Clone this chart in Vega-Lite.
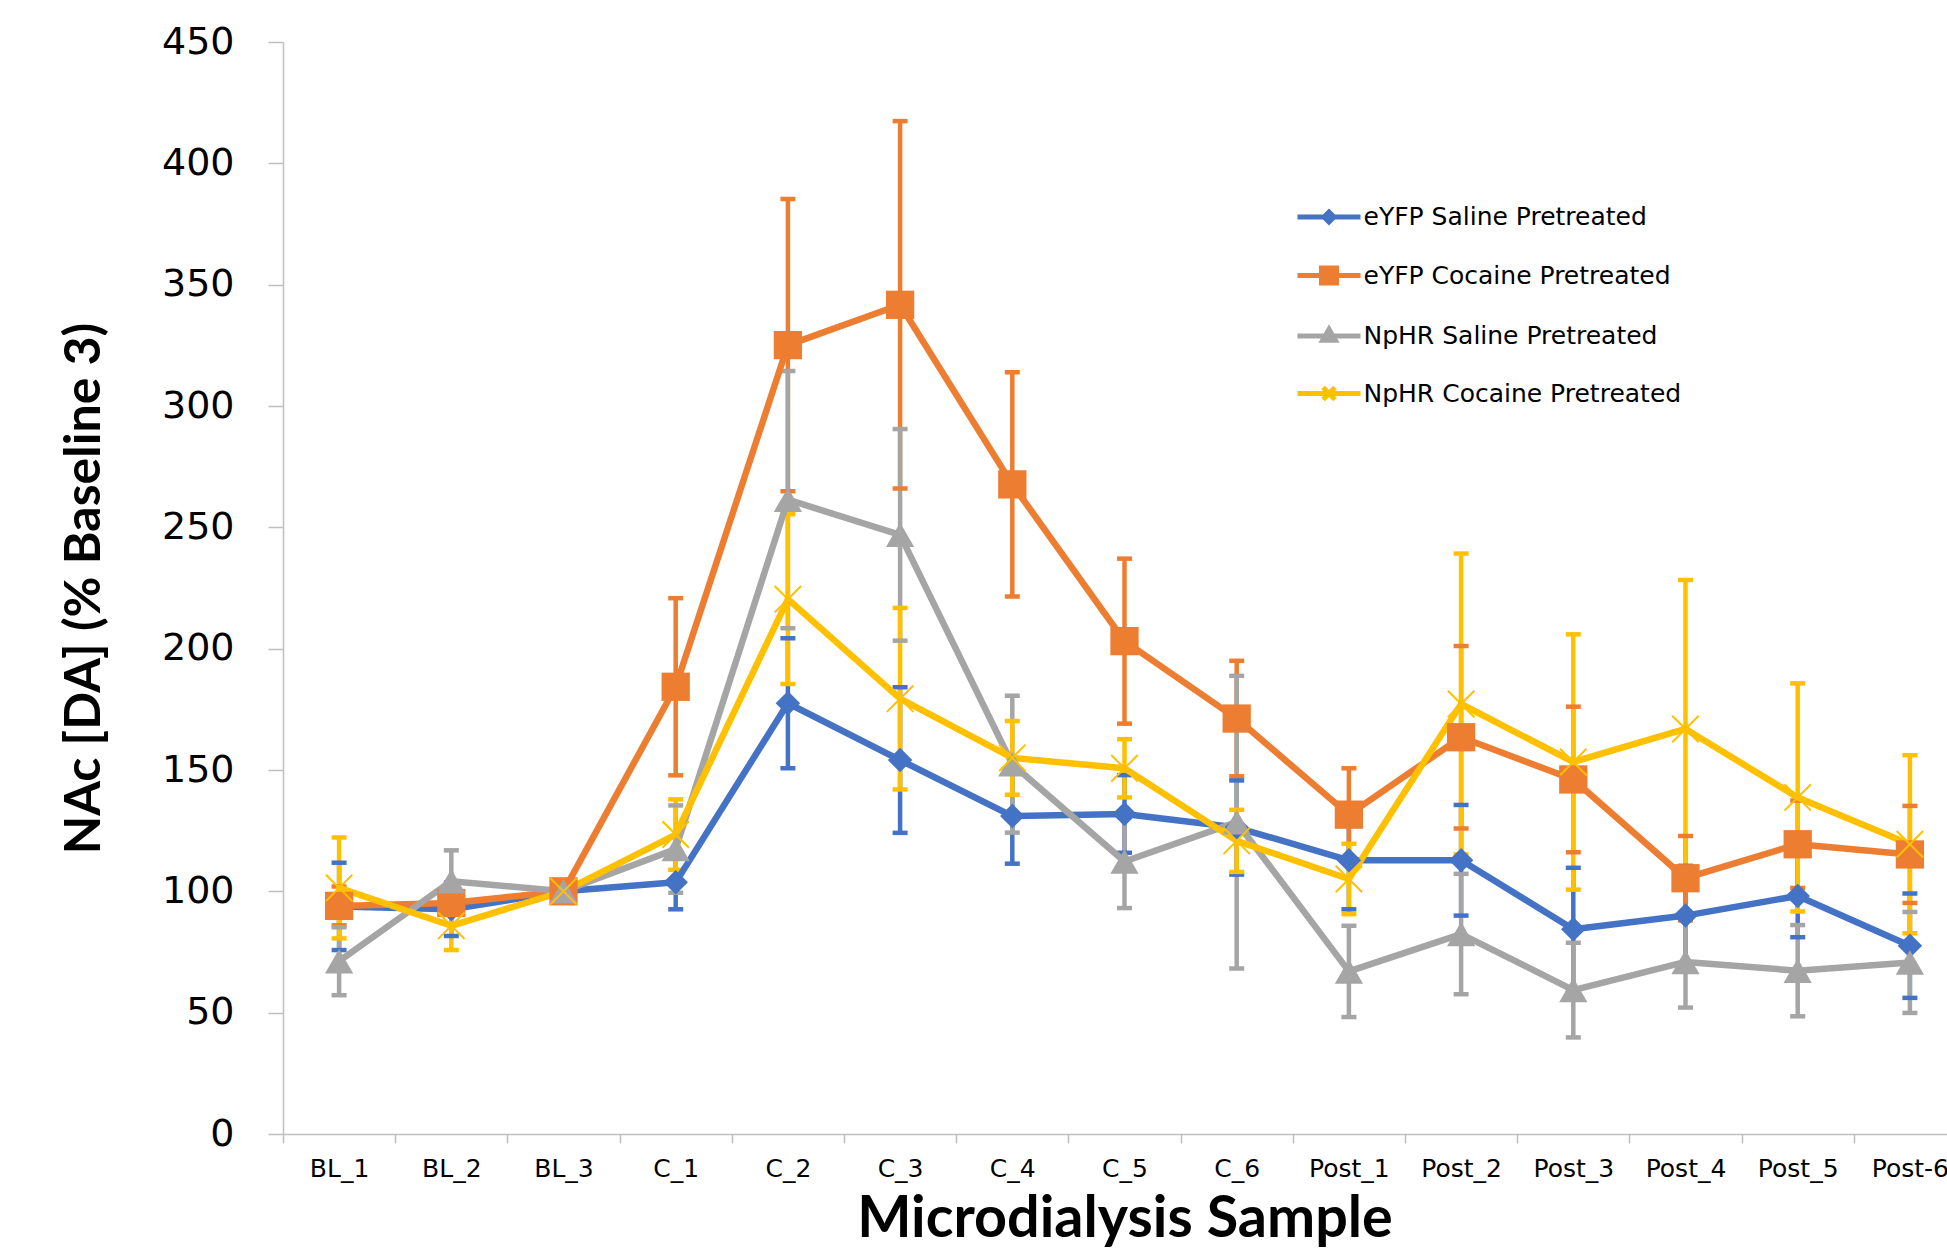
{
  "$schema": "https://vega.github.io/schema/vega-lite/v6.json",
  "autosize": "none",
  "width": 1664,
  "height": 1092,
  "padding": {"left": 283, "top": 42, "right": 0, "bottom": 116},
  "background": "white",
  "config": {
    "view": {"stroke": null},
    "axis": {"grid": false},
    "axisY": {"labelFont": "DejaVu Sans", "labelFontSize": 38, "labelColor": "#000000", "labelPadding": 34,
      "tickSize": 15, "tickColor": "#BFBFBF", "tickWidth": 1.5, "domainColor": "#BFBFBF", "domainWidth": 1.5,
      "titleFont": "Lato", "titleFontWeight": "bold", "titleFontSize": 50, "titleColor": "#000000",
      "titleX": -199, "titleY": 546, "titleAngle": -90, "titleBaseline": "middle", "titleAlign": "center"},
    "axisX": {"labelAngle": 0, "labelFont": "DejaVu Sans", "labelFontSize": 25, "labelColor": "#000000",
      "labelBaseline": "middle", "labelPadding": 25,
      "tickSize": 9, "tickColor": "#BFBFBF", "tickWidth": 1.5, "domainColor": "#BFBFBF", "domainWidth": 1.5,
      "titleFont": "Lato", "titleFontWeight": "bold", "titleFontSize": 57.5, "titleColor": "#000000",
      "titleX": 841.5, "titleY": 85, "titleBaseline": "middle", "titleAlign": "center"}
  },
  "data": {"values": [
    {"s": "BL_1", "g": "eYFP Saline Pretreated", "v": 93.8, "lo": 75.8, "hi": 111.8},
    {"s": "BL_2", "g": "eYFP Saline Pretreated", "v": 92.6, "lo": 81.6, "hi": 103.6},
    {"s": "BL_3", "g": "eYFP Saline Pretreated", "v": 100, "lo": null, "hi": null},
    {"s": "C_1", "g": "eYFP Saline Pretreated", "v": 103.7, "lo": 92.6, "hi": 114.8},
    {"s": "C_2", "g": "eYFP Saline Pretreated", "v": 177.5, "lo": 150.7, "hi": 204.3},
    {"s": "C_3", "g": "eYFP Saline Pretreated", "v": 154.1, "lo": 124.1, "hi": 184.1},
    {"s": "C_4", "g": "eYFP Saline Pretreated", "v": 131, "lo": 111.4, "hi": 150.6},
    {"s": "C_5", "g": "eYFP Saline Pretreated", "v": 131.9, "lo": 115.9, "hi": 147.9},
    {"s": "C_6", "g": "eYFP Saline Pretreated", "v": 126.3, "lo": 106.9, "hi": 145.7},
    {"s": "Post_1", "g": "eYFP Saline Pretreated", "v": 112.8, "lo": 92.6, "hi": 133},
    {"s": "Post_2", "g": "eYFP Saline Pretreated", "v": 112.8, "lo": 90, "hi": 135.6},
    {"s": "Post_3", "g": "eYFP Saline Pretreated", "v": 84.4, "lo": 59.1, "hi": 109.7},
    {"s": "Post_4", "g": "eYFP Saline Pretreated", "v": 90, "lo": 69.5, "hi": 110.5},
    {"s": "Post_5", "g": "eYFP Saline Pretreated", "v": 98.1, "lo": 81.1, "hi": 115.1},
    {"s": "Post-6", "g": "eYFP Saline Pretreated", "v": 77.6, "lo": 56.1, "hi": 99.1},
    {"s": "BL_1", "g": "eYFP Cocaine Pretreated", "v": 94, "lo": 86, "hi": 102},
    {"s": "BL_2", "g": "eYFP Cocaine Pretreated", "v": 95.2, "lo": 91.2, "hi": 99.2},
    {"s": "BL_3", "g": "eYFP Cocaine Pretreated", "v": 100, "lo": null, "hi": null},
    {"s": "C_1", "g": "eYFP Cocaine Pretreated", "v": 184.3, "lo": 147.8, "hi": 220.8},
    {"s": "C_2", "g": "eYFP Cocaine Pretreated", "v": 325.1, "lo": 264.9, "hi": 385.3},
    {"s": "C_3", "g": "eYFP Cocaine Pretreated", "v": 341.7, "lo": 266, "hi": 417.4},
    {"s": "C_4", "g": "eYFP Cocaine Pretreated", "v": 267.7, "lo": 221.5, "hi": 313.9},
    {"s": "C_5", "g": "eYFP Cocaine Pretreated", "v": 203.1, "lo": 169.1, "hi": 237.1},
    {"s": "C_6", "g": "eYFP Cocaine Pretreated", "v": 171.2, "lo": 147.4, "hi": 195},
    {"s": "Post_1", "g": "eYFP Cocaine Pretreated", "v": 131.6, "lo": 112.5, "hi": 150.7},
    {"s": "Post_2", "g": "eYFP Cocaine Pretreated", "v": 163.5, "lo": 125.9, "hi": 201.1},
    {"s": "Post_3", "g": "eYFP Cocaine Pretreated", "v": 146.1, "lo": 116.1, "hi": 176.1},
    {"s": "Post_4", "g": "eYFP Cocaine Pretreated", "v": 105.4, "lo": 88, "hi": 122.8},
    {"s": "Post_5", "g": "eYFP Cocaine Pretreated", "v": 119.4, "lo": 101.4, "hi": 137.4},
    {"s": "Post-6", "g": "eYFP Cocaine Pretreated", "v": 115.2, "lo": 95.2, "hi": 135.2},
    {"s": "BL_1", "g": "NpHR Saline Pretreated", "v": 71.2, "lo": 57.2, "hi": 85.2},
    {"s": "BL_2", "g": "NpHR Saline Pretreated", "v": 104.2, "lo": 91.5, "hi": 116.9},
    {"s": "BL_3", "g": "NpHR Saline Pretreated", "v": 100, "lo": null, "hi": null},
    {"s": "C_1", "g": "NpHR Saline Pretreated", "v": 117.4, "lo": 99.4, "hi": 135.4},
    {"s": "C_2", "g": "NpHR Saline Pretreated", "v": 261.4, "lo": 208.4, "hi": 314.4},
    {"s": "C_3", "g": "NpHR Saline Pretreated", "v": 246.9, "lo": 203.3, "hi": 290.5},
    {"s": "C_4", "g": "NpHR Saline Pretreated", "v": 152.4, "lo": 124.2, "hi": 180.6},
    {"s": "C_5", "g": "NpHR Saline Pretreated", "v": 112.3, "lo": 93.1, "hi": 131.5},
    {"s": "C_6", "g": "NpHR Saline Pretreated", "v": 128.5, "lo": 68.2, "hi": 188.8},
    {"s": "Post_1", "g": "NpHR Saline Pretreated", "v": 67, "lo": 48.2, "hi": 85.8},
    {"s": "Post_2", "g": "NpHR Saline Pretreated", "v": 82.4, "lo": 57.6, "hi": 107.2},
    {"s": "Post_3", "g": "NpHR Saline Pretreated", "v": 59.3, "lo": 39.8, "hi": 78.8},
    {"s": "Post_4", "g": "NpHR Saline Pretreated", "v": 70.9, "lo": 52.1, "hi": 89.7},
    {"s": "Post_5", "g": "NpHR Saline Pretreated", "v": 67.3, "lo": 48.5, "hi": 86.1},
    {"s": "Post-6", "g": "NpHR Saline Pretreated", "v": 70.7, "lo": 49.9, "hi": 91.5},
    {"s": "BL_1", "g": "NpHR Cocaine Pretreated", "v": 101.4, "lo": 80.6, "hi": 122.2},
    {"s": "BL_2", "g": "NpHR Cocaine Pretreated", "v": 85.8, "lo": 75.8, "hi": 95.8},
    {"s": "BL_3", "g": "NpHR Cocaine Pretreated", "v": 100, "lo": null, "hi": null},
    {"s": "C_1", "g": "NpHR Cocaine Pretreated", "v": 123.4, "lo": 108.9, "hi": 137.9},
    {"s": "C_2", "g": "NpHR Cocaine Pretreated", "v": 220.4, "lo": 185.4, "hi": 255.4},
    {"s": "C_3", "g": "NpHR Cocaine Pretreated", "v": 179.4, "lo": 142, "hi": 216.8},
    {"s": "C_4", "g": "NpHR Cocaine Pretreated", "v": 155, "lo": 139.8, "hi": 170.2},
    {"s": "C_5", "g": "NpHR Cocaine Pretreated", "v": 150.7, "lo": 138.7, "hi": 162.7},
    {"s": "C_6", "g": "NpHR Cocaine Pretreated", "v": 120.8, "lo": 108, "hi": 133.6},
    {"s": "Post_1", "g": "NpHR Cocaine Pretreated", "v": 105.1, "lo": 90.6, "hi": 119.6},
    {"s": "Post_2", "g": "NpHR Cocaine Pretreated", "v": 177.2, "lo": 115.2, "hi": 239.2},
    {"s": "Post_3", "g": "NpHR Cocaine Pretreated", "v": 153.3, "lo": 100.7, "hi": 205.9},
    {"s": "Post_4", "g": "NpHR Cocaine Pretreated", "v": 166.9, "lo": 105.5, "hi": 228.3},
    {"s": "Post_5", "g": "NpHR Cocaine Pretreated", "v": 138.7, "lo": 91.7, "hi": 185.7},
    {"s": "Post-6", "g": "NpHR Cocaine Pretreated", "v": 119.4, "lo": 82.7, "hi": 156.1}
  ]},
  "encoding": {
    "x": {
      "field": "s", "type": "nominal", "sort": null,
      "scale": {"domain": ["BL_1","BL_2","BL_3","C_1","C_2","C_3","C_4","C_5","C_6","Post_1","Post_2","Post_3","Post_4","Post_5","Post-6"], "range": [0, 1683], "paddingInner": 0, "paddingOuter": 0},
      "axis": {"title": "Microdialysis Sample", "tickBand": "extent"}
    }
  },
  "layer": [
    {
      "mark": {"type": "rule", "strokeWidth": 4.5},
      "encoding": {
        "y": {"field": "lo", "type": "quantitative", "scale": {"domain": [0, 450], "nice": false}, "axis": {"title": "NAc [DA] (% Baseline 3)", "values": [0,50,100,150,200,250,300,350,400,450]}},
        "y2": {"field": "hi"},
        "stroke": {"field": "g", "type": "nominal", "legend": null, "scale": {"domain": ["NpHR Cocaine Pretreated","NpHR Saline Pretreated","eYFP Cocaine Pretreated","eYFP Saline Pretreated"], "range": ["#FFC000","#A5A5A5","#ED7D31","#4472C4"]}}
      }
    },
    {
      "mark": {"type": "tick", "size": 15, "thickness": 4.5, "opacity": 1},
      "encoding": {
        "y": {"field": "lo", "type": "quantitative", "scale": {"domain": [0, 450], "nice": false}, "axis": {"title": "NAc [DA] (% Baseline 3)", "values": [0,50,100,150,200,250,300,350,400,450]}},
        "fill": {"field": "g", "type": "nominal", "legend": null, "scale": {"domain": ["eYFP Cocaine Pretreated","eYFP Saline Pretreated","NpHR Cocaine Pretreated","NpHR Saline Pretreated"], "range": ["#ED7D31","#4472C4","#FFC000","#A5A5A5"]}}
      }
    },
    {
      "mark": {"type": "tick", "size": 15, "thickness": 4.5, "opacity": 1},
      "encoding": {
        "y": {"field": "hi", "type": "quantitative", "scale": {"domain": [0, 450], "nice": false}, "axis": {"title": "NAc [DA] (% Baseline 3)", "values": [0,50,100,150,200,250,300,350,400,450]}},
        "fill": {"field": "g", "type": "nominal", "legend": null, "scale": {"domain": ["eYFP Cocaine Pretreated","eYFP Saline Pretreated","NpHR Cocaine Pretreated","NpHR Saline Pretreated"], "range": ["#ED7D31","#4472C4","#FFC000","#A5A5A5"]}}
      }
    },
    {
      "mark": {"type": "line", "strokeWidth": 6.5, "strokeCap": "round", "strokeJoin": "round"},
      "encoding": {
        "y": {"field": "v", "type": "quantitative", "scale": {"domain": [0, 450], "nice": false}, "axis": {"title": "NAc [DA] (% Baseline 3)", "values": [0,50,100,150,200,250,300,350,400,450]}},
        "stroke": {"field": "g", "type": "nominal", "legend": null, "scale": {"domain": ["NpHR Cocaine Pretreated","NpHR Saline Pretreated","eYFP Cocaine Pretreated","eYFP Saline Pretreated"], "range": ["#FFC000","#A5A5A5","#ED7D31","#4472C4"]}},
        "order": {"value": null}
      }
    },
    {
      "transform": [{"filter": "datum.g === 'eYFP Saline Pretreated'"}],
      "mark": {"type": "point", "shape": "diamond", "filled": true, "size": 600, "opacity": 1, "color": "#4472C4"},
      "encoding": {"y": {"field": "v", "type": "quantitative", "scale": {"domain": [0, 450], "nice": false}, "axis": {"title": "NAc [DA] (% Baseline 3)", "values": [0,50,100,150,200,250,300,350,400,450]}}}
    },
    {
      "transform": [{"filter": "datum.g === 'eYFP Cocaine Pretreated'"}],
      "mark": {"type": "point", "shape": "square", "filled": true, "size": 800, "opacity": 1, "color": "#ED7D31"},
      "encoding": {"y": {"field": "v", "type": "quantitative", "scale": {"domain": [0, 450], "nice": false}, "axis": {"title": "NAc [DA] (% Baseline 3)", "values": [0,50,100,150,200,250,300,350,400,450]}}}
    },
    {
      "transform": [{"filter": "datum.g === 'NpHR Saline Pretreated'"}],
      "mark": {"type": "point", "shape": "triangle-up", "filled": true, "size": 800, "opacity": 1, "color": "#A5A5A5"},
      "encoding": {"y": {"field": "v", "type": "quantitative", "scale": {"domain": [0, 450], "nice": false}, "axis": {"title": "NAc [DA] (% Baseline 3)", "values": [0,50,100,150,200,250,300,350,400,450]}}}
    },
    {
      "transform": [{"filter": "datum.g === 'NpHR Cocaine Pretreated'"}],
      "mark": {"type": "point", "shape": "M-1,-1L1,1M-1,1L1,-1", "filled": false, "size": 700, "strokeWidth": 2, "opacity": 1, "color": "#FFC000"},
      "encoding": {"y": {"field": "v", "type": "quantitative", "scale": {"domain": [0, 450], "nice": false}, "axis": {"title": "NAc [DA] (% Baseline 3)", "values": [0,50,100,150,200,250,300,350,400,450]}}}
    },
    {
      "mark": {"type": "point", "filled": false, "opacity": 0},
      "encoding": {
        "y": {"field": "v", "type": "quantitative", "scale": {"domain": [0, 450], "nice": false}, "axis": {"title": "NAc [DA] (% Baseline 3)", "values": [0,50,100,150,200,250,300,350,400,450]}},
        "color": {"field": "g", "type": "nominal",
          "scale": {"domain": ["eYFP Saline Pretreated","eYFP Cocaine Pretreated","NpHR Saline Pretreated","NpHR Cocaine Pretreated"], "range": ["#4472C4","#ED7D31","#A5A5A5","#FFC000"]},
          "legend": {"orient": "none", "legendX": 1028.5, "legendY": 157.5, "title": null,
            "labelFont": "DejaVu Sans", "labelFontSize": 25, "labelColor": "#000000", "labelOffset": 17, "labelLimit": 600,
            "symbolSize": 900, "symbolStrokeWidth": 5, "symbolOpacity": 1, "rowPadding": 25.5, "padding": 0,
            "encode": {"symbols": {"strokeCap": {"value": "round"}, "strokeJoin": {"value": "round"}}}}
        },
        "shape": {"field": "g", "type": "nominal",
          "scale": {"domain": ["eYFP Saline Pretreated","eYFP Cocaine Pretreated","NpHR Saline Pretreated","NpHR Cocaine Pretreated"],
            "range": [
              "M-2.1,0L2.1,0M0,-0.33L0.33,0L0,0.33L-0.33,0ZM0,-0.17L0.17,0L0,0.17L-0.17,0Z",
              "M-2.1,0L2.1,0M-0.5,-0.5L0.5,-0.5L0.5,0.5L-0.5,0.5ZM-0.33,-0.33L0.33,-0.33L0.33,0.33L-0.33,0.33ZM-0.17,-0.17L0.17,-0.17L0.17,0.17L-0.17,0.17ZM-0.03,-0.03L0.03,-0.03L0.03,0.03L-0.03,0.03Z",
              "M-2.1,0L2.1,0M0,-0.45L0.42,0.28L-0.42,0.28ZM0,-0.25L0.24,0.16L-0.24,0.16ZM0,-0.05L0.05,0.05L-0.05,0.05Z",
              "M-2.1,0L2.1,0M-0.4,-0.4L0.4,0.4M-0.4,0.4L0.4,-0.4"
            ]},
          "legend": {"orient": "none", "legendX": 1028.5, "legendY": 157.5, "title": null,
            "labelFont": "DejaVu Sans", "labelFontSize": 25, "labelColor": "#000000", "labelOffset": 17, "labelLimit": 600,
            "symbolSize": 900, "symbolStrokeWidth": 5, "symbolOpacity": 1, "rowPadding": 25.5, "padding": 0,
            "encode": {"symbols": {"strokeCap": {"value": "round"}, "strokeJoin": {"value": "round"}}}}
        }
      }
    }
  ]
}
